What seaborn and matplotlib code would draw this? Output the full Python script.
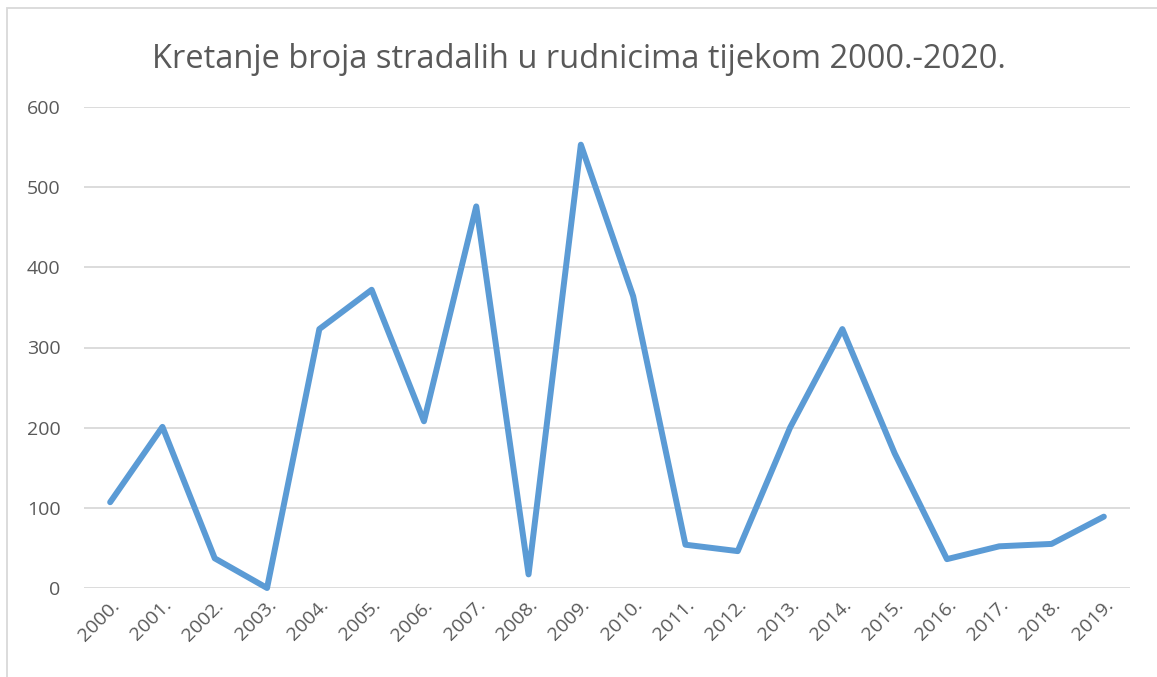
import matplotlib
matplotlib.use("Agg")
import matplotlib.pyplot as plt
import pandas as pd
import seaborn as sns
from matplotlib.patches import Rectangle

# podaci procitani s grafa
godine = ["2000.", "2001.", "2002.", "2003.", "2004.", "2005.", "2006.", "2007.", "2008.", "2009.",
          "2010.", "2011.", "2012.", "2013.", "2014.", "2015.", "2016.", "2017.", "2018.", "2019."]
stradali = [107, 201, 37, 0, 323, 372, 208, 476, 17, 553,
            364, 54, 46, 200, 323, 168, 36, 52, 55, 89]

df = pd.DataFrame({"godina": godine, "stradali": stradali})

sns.set_theme(style="white")
plt.rcParams["font.family"] = ["Open Sans", "DejaVu Sans"]

fig = plt.figure(figsize=(11.57, 6.77), dpi=100)
ax = fig.add_axes([84 / 1157, 89 / 677, 1046 / 1157, 481 / 677])

sns.lineplot(data=df, x="godina", y="stradali", ax=ax, color="#5B9BD5",
             linewidth=4.3, sort=False, solid_capstyle="round", solid_joinstyle="round")
for ln in ax.lines:
    ln.set_clip_on(False)

ax.set_xlim(-0.5, len(godine) - 0.5)
ax.set_ylim(0, 600)
ax.set_yticks(range(0, 601, 100))
ax.grid(axis="y", color="#D9D9D9", linewidth=1.3)
ax.set_axisbelow(True)
for s in ax.spines.values():
    s.set_visible(False)
ax.tick_params(axis="both", length=0, colors="#595959", labelsize=14)
ax.tick_params(axis="y", pad=17)
ax.tick_params(axis="x", pad=6)
plt.setp(ax.get_xticklabels(), rotation=45, ha="right", rotation_mode="anchor")
ax.set_xlabel("")
ax.set_ylabel("")

fig.text(0.5, 1 - 60 / 677, "Kretanje broja stradalih u rudnicima tijekom 2000.-2020.",
         ha="center", va="center", fontsize=23.5, color="#595959")

# okvir grafikona
fig.patches.append(Rectangle((7 / 1157, -0.1), 1.2, (669 / 677) + 0.1,
                             transform=fig.transFigure, fill=False,
                             edgecolor="#D9D9D9", linewidth=1.3))

fig.savefig("out.png", dpi=100)
plt.close(fig)
